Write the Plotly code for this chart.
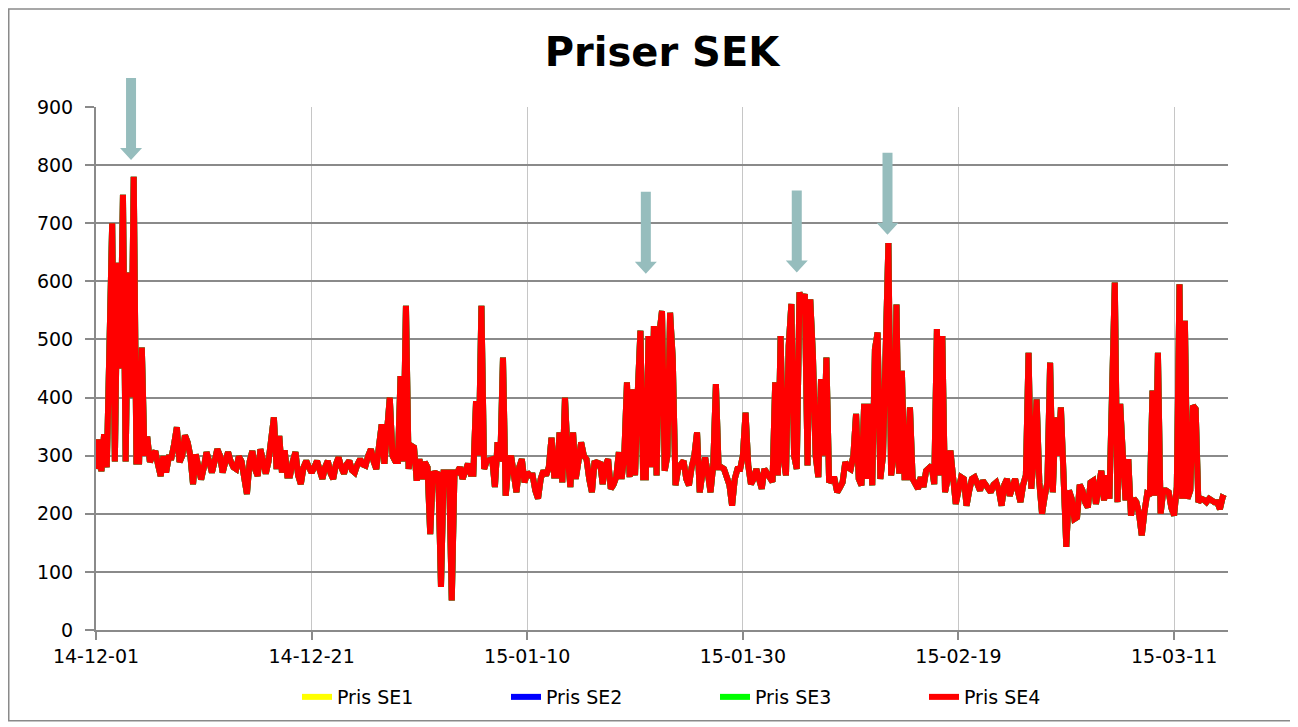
import plotly.graph_objects as go
import pandas as pd

# ---------------- data (SEK/MWh, 4 readings per day, from 2014-12-01) ----------------
start_date = "2014-12-01"
readings_per_day = 4

pris_se4 = [
    277, 328, 273, 337,  280, 500, 700, 290,  632, 450, 749, 290,  615, 400, 780, 290,
    290, 486, 300, 333,  289, 300, 308, 285,  265, 299, 271, 297,
    297, 320, 349, 289,  300, 335, 323, 300,  251, 302, 280, 259,  280, 306, 290, 271,
    290, 311, 300, 271,  290, 306, 290, 280,  277, 299, 290, 260,
    234, 290, 308, 277,  265, 311, 290, 269,  290, 320, 366, 277,  334, 271, 309, 266,
    266, 290, 306, 266,  251, 280, 291, 280,  271, 280, 291, 275,
    260, 280, 291, 270,  260, 285, 297, 280,  269, 285, 291, 275,  271, 285, 294, 285,
    283, 300, 311, 290,  277, 317, 354, 286,  340, 400, 300, 291,
    291, 437, 290, 558,  277, 317, 314, 257,  294, 260, 289, 280,  165, 269, 270, 268,
    74, 271, 271, 271,   51, 271, 271, 280,   260, 271, 286, 269,
    269, 394, 300, 558,  277, 291, 294, 294,  246, 323, 290, 469,  231, 280, 300, 260,
    237, 280, 294, 254,  271, 266, 266, 240,  226, 260, 274, 266,
    280, 331, 266, 266,  340, 254, 400, 300,  246, 340, 260, 290,  323, 300, 294, 260,
    237, 291, 285, 289,  251, 283, 294, 243,  250, 263, 306, 260,
    300, 426, 263, 414,  266, 409, 515, 263,  263, 506, 280, 523,  266, 509, 549, 274,
    300, 546, 466, 249,  277, 285, 291, 260,  249, 280, 300, 340,
    237, 270, 297, 270,  237, 283, 423, 280,  280, 277, 266, 250,  214, 260, 277, 277,
    300, 374, 283, 251,  260, 277, 260, 243,  277, 270, 263, 255,
    426, 266, 506, 300,  266, 489, 561, 300,  277, 581, 560, 578,  283, 569, 472, 300,
    263, 432, 300, 469,  254, 260, 260, 237,  245, 254, 289, 280,
    277, 300, 372, 260,  249, 389, 260, 389,  249, 483, 512, 260,  300, 526, 666, 266,
    300, 560, 269, 446,  263, 263, 383, 260,  250, 243, 263, 246,
    274, 280, 283, 251,  518, 266, 506, 237,  260, 309, 271, 217,  240, 263, 260, 214,
    240, 260, 263, 250,  240, 257, 251, 245,  237, 250, 254, 240,
    214, 250, 260, 231,  250, 260, 240, 220,  250, 266, 477, 243,  300, 397, 254, 200,
    230, 254, 460, 237,  366, 300, 383, 220,  143, 240, 226, 191,
    194, 250, 240, 220,  211, 254, 257, 217,  250, 274, 223, 266,  226, 389, 598, 220,
    389, 300, 223, 294,  197, 226, 220, 200,  163, 203, 234, 231,
    412, 231, 477, 200,  240, 240, 237, 210,  197, 246, 595, 226,  532, 226, 240, 386,
    380, 220, 226, 224,  220, 226, 222, 220,  220, 208, 228, 226,
]
# SE1-SE3 lie underneath SE4 and are not distinguishable in the picture
pris_se3 = list(pris_se4)
pris_se2 = list(pris_se4)
pris_se1 = list(pris_se4)

series_names = ["Pris SE1", "Pris SE2", "Pris SE3", "Pris SE4"]
series_colors = ["#FFFF00", "#0000FF", "#00FF00", "#FF0000"]

tick_dates = ["2014-12-01", "2014-12-21", "2015-01-10", "2015-01-30", "2015-02-19", "2015-03-11"]
tick_labels = ["14-12-01", "14-12-21", "15-01-10", "15-01-30", "15-02-19", "15-03-11"]
x_range = ["2014-12-01", "2015-03-16"]
y_range = [0, 900]

# arrow annotations (tip position: date, price)
arrow_dates = ["2014-12-04 06:00", "2015-01-21 00:00", "2015-02-04 00:00", "2015-02-12 10:00"]
arrow_tip_values = [809, 613, 615, 680]

# ---------------- figure ----------------
times = pd.date_range(start_date, periods=len(pris_se4), freq=f"{24 // readings_per_day}h")

fig = go.Figure()
for name, color, vals in zip(series_names, series_colors, [pris_se1, pris_se2, pris_se3, pris_se4]):
    fig.add_trace(go.Scatter(x=times, y=vals, mode="lines", name=name,
                             line=dict(color=color, width=6)))

GRID_DARK = "#8a8a8a"
GRID_LIGHT = "#c6c6c6"
FONT = "DejaVu Sans"

# page body has an 8px margin: figure is 1290x719 placed at (8, 8)
W, H = 1290, 719
L, T, PW, PH = 88, 99, 1132, 524
R = W - L - PW
B = H - T - PH

fig.update_layout(
    width=W, height=H,
    margin=dict(l=L, r=R, t=T, b=B),
    paper_bgcolor="white", plot_bgcolor="white",
    title=dict(text="<b>Priser SEK</b>", x=0.5, xref="paper", xanchor="center",
               y=1 - 44 / H, yanchor="middle",
               font=dict(family=FONT, size=40, color="black")),
    font=dict(family=FONT, size=19, color="black"),
    showlegend=True,
    legend=dict(orientation="h", x=(289 - L) / PW, xanchor="left", y=-0.126, yanchor="middle",
                entrywidth=164, entrywidthmode="pixels",
                font=dict(family=FONT, size=19, color="black"),
                bgcolor="rgba(0,0,0,0)"),
)

fig.update_xaxes(type="date", range=x_range, tickvals=tick_dates, ticktext=tick_labels,
                 showgrid=True, gridcolor=GRID_LIGHT, gridwidth=1,
                 showline=True, linecolor=GRID_DARK, linewidth=2,
                 ticks="outside", ticklen=8, tickcolor=GRID_DARK, tickwidth=2,
                 tickfont=dict(family=FONT, size=19, color="black"), zeroline=False)
fig.update_yaxes(range=y_range, dtick=100, showgrid=True, gridcolor=GRID_DARK, gridwidth=2,
                 showline=True, linecolor=GRID_DARK, linewidth=2,
                 ticks="outside", ticklen=9, tickcolor=GRID_DARK, tickwidth=2,
                 ticklabelstandoff=8,
                 tickfont=dict(family=FONT, size=19, color="black"), zeroline=False)

# arrows
x0 = pd.Timestamp(x_range[0]); x1 = pd.Timestamp(x_range[1])
arrow_path = "M0,0 L11,12 L5,12 L5,82 L-5,82 L-5,12 L-11,12 Z"
for d, v in zip(arrow_dates, arrow_tip_values):
    xp = (pd.Timestamp(d) - x0) / (x1 - x0)
    yp = (v - y_range[0]) / (y_range[1] - y_range[0])
    fig.add_shape(type="path", xref="paper", yref="paper",
                  xsizemode="pixel", ysizemode="pixel", xanchor=xp, yanchor=yp,
                  path=arrow_path, fillcolor="#96BDBD", line=dict(width=0), layer="above")

# outer chart frame
fig.add_shape(type="rect", xref="paper", yref="paper",
              x0=(0.75 - L) / PW, x1=(1283 - L) / PW,
              y0=(T + PH - 714) / PH, y1=(T + PH - 0.75) / PH,
              line=dict(color=GRID_DARK, width=1.5), fillcolor="rgba(0,0,0,0)", layer="below")

fig.write_html("out.html")
